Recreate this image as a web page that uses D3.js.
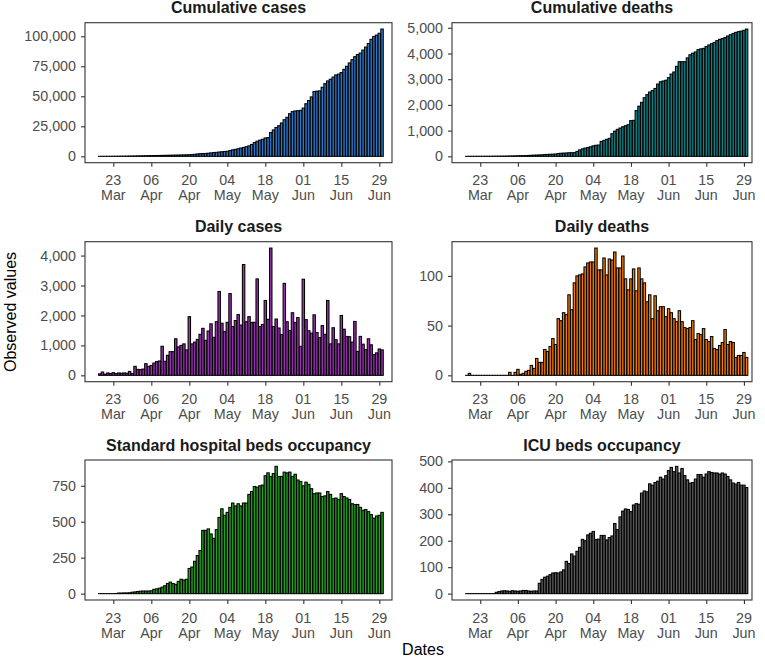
<!DOCTYPE html>
<html><head><meta charset="utf-8">
<script src="https://cdn.jsdelivr.net/npm/d3@7"></script>
<style>body{margin:0;background:#fff}svg{display:block}</style>
</head><body><svg id="c" width="765" height="658"></svg>
<script>
// ---------- data ----------
const firstDate = "2020-03-18";
const lastDate = "2020-06-30";
const tickDates = ["2020-03-23","2020-04-06","2020-04-20","2020-05-04","2020-05-18","2020-06-01","2020-06-15","2020-06-29"];

const cumulativeCases = [
 10,20,30,40,60,80,100,120,150,180,210,250,290,330,
 380,420,470,520,560,600,640,690,730,780,820,870,920,970,1020,1080,1140,1200,1260,1330,1500,1700,1950,2200,2300,2400,2600,2900,3100,3300,
 3600,3800,4000,4200,4800,5400,5800,6300,6900,7400,8000,8700,9900,11500,12600,13500,14200,15300,15600,19800,22000,24000,25500,27800,30500,32500,35500,37200,37800,38000,38300,
 40200,43800,46500,49500,54000,54300,54500,57500,60500,62800,64200,66000,67800,68500,69800,72500,75000,77800,80500,83000,84800,86000,88500,91000,94000,97500,99800,101000,102500,106000];

const cumulativeDeaths = [
 0,1,1,1,2,2,3,3,4,5,6,7,8,9,
 10,12,15,16,19,22,25,27,30,35,40,45,50,55,60,70,75,80,85,90,110,120,125,130,140,140,145,190,250,290,
 320,345,370,410,430,440,580,620,660,700,880,980,1050,1100,1150,1190,1230,1390,1400,1780,1950,2100,2280,2400,2500,2560,2640,2810,2900,2930,2960,
 3060,3200,3280,3500,3680,3680,3680,3830,3950,4010,4060,4150,4180,4200,4270,4330,4380,4430,4500,4550,4580,4620,4680,4730,4780,4820,4850,4870,4900,4950];

const dailyCases = [
 50,110,40,80,60,90,60,80,70,80,70,130,60,300,
 200,190,210,390,300,330,410,460,480,970,470,670,790,790,1220,950,1000,1050,850,1960,1050,1110,1200,1370,1570,1170,1480,1720,1270,1790,
 2800,1740,1460,1770,2730,1630,1830,2030,1680,3700,1790,1960,1770,1770,3220,1630,1700,2500,1870,4250,1630,1880,1580,1360,3070,1790,1500,2090,1760,1930,970,
 3210,1860,1490,1410,2020,1430,1260,1660,1370,2500,1050,1590,1190,1050,2000,1540,1300,1290,1110,1800,800,1300,1040,860,1220,1020,690,750,880,850];

const dailyDeaths = [
 0,2,0,0,0,0,0,0,0,0,0,0,0,0,
 0,0,3,0,3,6,1,2,4,5,10,7,17,13,13,26,24,29,37,31,57,55,63,61,81,66,93,100,101,102,
 109,113,114,114,128,106,106,118,101,117,116,124,108,108,120,97,86,97,107,85,108,97,93,74,81,57,80,65,69,69,59,
 67,63,57,54,65,54,48,47,48,55,36,42,41,47,36,34,39,27,26,30,33,46,31,34,33,18,20,20,23,18];

const standardBeds = [
 0,0,0,0,0,0,1,4,4,5,5,6,10,12,
 15,17,18,18,18,20,30,33,38,45,55,70,80,70,65,85,100,95,100,175,185,225,265,300,440,440,450,415,385,445,
 530,590,545,565,600,630,610,625,610,630,630,690,710,745,740,750,755,820,840,815,835,885,815,815,845,840,845,815,830,790,780,
 750,775,760,730,695,700,700,675,680,710,690,660,665,655,695,675,665,655,625,620,620,600,580,585,570,550,525,540,545,565];

const icuBeds = [
 0,0,0,0,0,0,0,0,0,0,0,5,8,10,
 11,10,9,11,10,9,10,12,12,10,9,10,10,39,54,62,66,72,78,79,78,82,90,122,114,150,142,160,175,205,
 200,222,228,235,205,206,220,220,203,212,218,265,242,290,312,320,318,310,335,340,338,380,388,385,415,410,420,425,440,433,446,
 465,477,461,481,456,473,446,430,418,420,433,450,450,440,452,461,458,456,456,452,456,452,443,430,418,414,420,410,410,401];

const panelTitles = ["Cumulative cases","Cumulative deaths","Daily cases","Daily deaths","Standard hospital beds occupancy","ICU beds occupancy"];
const panelSeries = [cumulativeCases, cumulativeDeaths, dailyCases, dailyDeaths, standardBeds, icuBeds];
const panelColors = ["#2b78c8","#108286","#9632ad","#f57c00","#1ea31e","#5a5a5a"];
const panelYTicks = [
 [0,25000,50000,75000,100000],
 [0,1000,2000,3000,4000,5000],
 [0,1000,2000,3000,4000],
 [0,50,100],
 [0,250,500,750],
 [0,100,200,300,400,500]];

// ---------- layout ----------
const colX = [[85,392],[452,752]];
const colDomain = [["2020-03-12T13:40:00Z","2020-07-03T16:00:00Z"],["2020-03-12T12:00:00Z","2020-07-02T00:00:00Z"]];
const rowY = [[22.7,162.7],[241.7,381.7],[460,600]];
const FONT = "'Liberation Sans', Arial, sans-serif";
const TICKFS = "14.3px", TITLEFS = "16px";

const svg = d3.select("#c");
const parse = d3.utcParse("%Y-%m-%d");
const dates = d3.utcDay.range(parse(firstDate), d3.utcDay.offset(parse(lastDate),1));
const ticks = tickDates.map(parse);

panelSeries.forEach((vals, i) => {
  const col = i % 2, row = Math.floor(i / 2);
  const [x0, x1] = colX[col], [y0, y1] = rowY[row];
  const x = d3.scaleUtc().domain(colDomain[col].map(s => new Date(s))).range([x0, x1]);
  const mx = d3.max(vals);
  const y = d3.scaleLinear().domain([-0.05*mx, 1.05*mx]).range([y1, y0]);
  const dayW = x(dates[1]) - x(dates[0]);
  const bw = dayW * 0.9;
  const g = svg.append("g");

  g.selectAll("rect.bar").data(vals).join("rect")
    .attr("class","bar")
    .attr("x", (d,j) => x(dates[j]) - bw/2)
    .attr("width", bw)
    .attr("y", d => y(Math.max(d,0)))
    .attr("height", d => Math.max(Math.abs(y(0) - y(d)), 0.01))
    .attr("fill", panelColors[i])
    .attr("stroke", "#000")
    .attr("stroke-width", 1.05);

  // panel border
  g.append("rect").attr("x", x0).attr("y", y0).attr("width", x1-x0).attr("height", y1-y0)
    .attr("fill","none").attr("stroke","#333").attr("stroke-width",1.1);

  // y axis
  const ya = g.append("g").attr("transform", `translate(${x0},0)`)
    .call(d3.axisLeft(y).tickValues(panelYTicks[i]).tickFormat(d3.format(",")).tickSizeOuter(0).tickSize(4).tickPadding(5));
  ya.select(".domain").remove();
  ya.selectAll("line").attr("stroke","#333").attr("stroke-width",1.1);
  ya.selectAll("text").attr("fill","#4d4d4d").style("font-family",FONT).style("font-size",TICKFS);

  // x axis
  const xa = g.append("g").attr("transform", `translate(0,${y1})`)
    .call(d3.axisBottom(x).tickValues(ticks).tickFormat("").tickSizeOuter(0).tickSize(4));
  xa.select(".domain").remove();
  xa.selectAll("line").attr("stroke","#333").attr("stroke-width",1.1);
  const lab = g.append("g");
  ticks.forEach(t => {
    lab.append("text").attr("x", x(t)).attr("y", y1 + 22.5)
      .attr("text-anchor","middle").attr("fill","#4d4d4d")
      .style("font-family",FONT).style("font-size",TICKFS)
      .text(d3.utcFormat("%d")(t));
    lab.append("text").attr("x", x(t)).attr("y", y1 + 37.5)
      .attr("text-anchor","middle").attr("fill","#4d4d4d")
      .style("font-family",FONT).style("font-size",TICKFS)
      .text(d3.utcFormat("%b")(t));
  });

  // title
  g.append("text").attr("x", (x0+x1)/2).attr("y", y0 - 9.4)
    .attr("text-anchor","middle").attr("fill","#1a1a1a")
    .style("font-family",FONT).style("font-size",TITLEFS).style("font-weight","bold")
    .text(panelTitles[i]);
});

// axis titles
svg.append("text").attr("transform","translate(15.5,312) rotate(-90)")
  .attr("text-anchor","middle").attr("fill","#000")
  .style("font-family",FONT).style("font-size",TITLEFS).text("Observed values");
svg.append("text").attr("x",423).attr("y",655)
  .attr("text-anchor","middle").attr("fill","#000")
  .style("font-family",FONT).style("font-size",TITLEFS).text("Dates");
</script></body></html>
